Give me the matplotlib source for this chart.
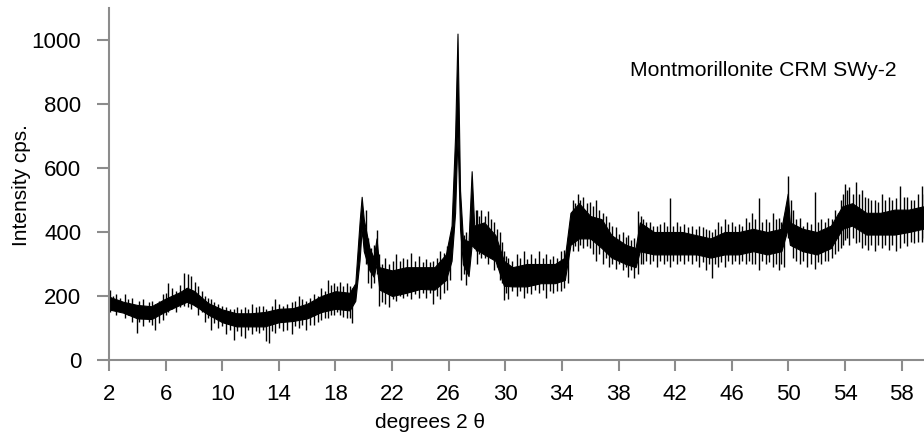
import matplotlib
matplotlib.use("Agg")
import matplotlib.pyplot as plt

plt.rcParams["font.family"] = ["Liberation Sans", "DejaVu Sans"]

# Dense part of the XRD trace: lower / upper edge of the noise band (cps)
two_theta = [2.0, 3.0, 4.0, 5.0, 6.0, 7.0, 7.5, 8.0, 9.0, 10.0, 11.0, 12.0,
             13.0, 14.0, 15.0, 16.0, 17.0, 18.0, 19.0, 19.4, 19.7, 19.85,
             20.0, 20.4, 20.7, 20.9, 21.1, 22.0, 23.0, 24.0, 25.0, 25.8,
             26.2, 26.45, 26.62, 26.8, 27.0, 27.4, 27.62, 27.8, 28.5, 29.3,
             29.9, 30.5, 31.5, 32.5, 33.5, 34.2, 34.6, 35.2, 36.0, 36.8,
             37.5, 38.5, 39.2, 39.5, 40.5, 41.5, 42.5, 43.5, 44.5, 45.5,
             46.5, 47.5, 48.5, 49.5, 49.95, 50.1, 51.0, 52.0, 53.0, 53.8,
             54.5, 55.5, 56.5, 57.5, 58.5, 59.5, 60.0]
band_lo = [158, 148, 130, 128, 152, 172, 182, 172, 142, 118, 105, 105,
           105, 118, 122, 130, 150, 160, 155, 185, 310, 410,
           340, 280, 260, 300, 220, 200, 210, 222, 220, 250,
           310, 460, 700, 410, 300, 262, 360, 350, 330, 310,
           232, 230, 230, 240, 240, 250, 360, 380, 380, 350,
           320, 300, 290, 340, 330, 330, 330, 330, 320, 330,
           330, 340, 330, 340, 410, 360, 340, 330, 350, 410,
           420, 392, 392, 392, 400, 410, 410]
band_hi = [198, 182, 172, 168, 192, 212, 226, 216, 178, 158, 146, 146,
           150, 160, 162, 176, 200, 215, 210, 240, 430, 510,
           440, 350, 320, 380, 290, 280, 290, 290, 290, 330,
           420, 700, 1020, 530, 380, 370, 590, 420, 430, 390,
           310, 290, 300, 300, 300, 320, 460, 490, 450, 440,
           390, 360, 350, 430, 400, 400, 400, 390, 380, 400,
           400, 410, 400, 410, 520, 430, 410, 400, 420, 480,
           490, 460, 460, 470, 470, 480, 480]

# Individual noise excursions outside the dense band
spike_theta = [2.1, 2.3, 2.5, 2.8, 3.1, 3.35, 3.6, 3.95, 4.15, 4.4, 4.8, 5.05,
               5.25, 5.5, 5.8, 6.0, 6.2, 6.45, 6.7, 7.0, 7.3, 7.55, 7.8, 8.05,
               8.3, 8.55, 8.8, 9.0, 9.2, 9.45, 9.7, 10.0, 10.3, 10.55, 10.8,
               11.05, 11.3, 11.6, 11.85, 12.1, 12.35, 12.6, 12.85, 13.1, 13.3,
               13.5, 13.7, 14.0, 14.3, 14.6, 14.9, 15.15, 15.4, 15.65, 15.9,
               16.2, 16.5, 16.75, 17.0, 17.25, 17.5, 17.7, 17.9, 18.1, 18.3,
               18.55, 18.8, 19.0, 19.2, 20.15, 20.3, 20.5, 20.7, 20.9, 21.1,
               21.3, 21.5, 21.8, 22.05, 22.3, 22.55, 22.8, 23.05, 23.3, 23.6,
               23.9, 24.15, 24.4, 24.65, 24.9, 25.15, 25.4, 25.65, 25.9, 26.1,
               26.9, 27.05, 27.2, 27.95, 28.0, 28.15, 28.3, 28.55, 28.8, 29.0,
               29.2, 29.4, 29.6, 29.75, 29.9, 30.05, 30.2, 30.5, 30.8, 31.05,
               31.3, 31.55, 31.8, 32.1, 32.4, 32.65, 32.9, 33.15, 33.4, 33.65,
               33.9, 34.15, 34.4, 34.8, 34.95, 35.1, 35.3, 35.5, 35.75, 36.0,
               36.2, 36.4, 36.65, 36.9, 37.1, 37.3, 37.55, 37.8, 38.05, 38.3,
               38.5, 38.7, 38.9, 39.1, 39.4, 39.55, 39.7, 39.95, 40.2, 40.45,
               40.7, 40.95, 41.2, 41.4, 41.6, 41.85, 42.1, 42.35, 42.6, 42.9,
               43.2, 43.45, 43.7, 43.95, 44.2, 44.4, 44.6, 44.8, 45.0, 45.25,
               45.5, 45.75, 46.0, 46.25, 46.5, 46.75, 47.0, 47.2, 47.4, 47.65,
               47.9, 48.15, 48.4, 48.65, 48.9, 49.1, 49.3, 49.5, 49.7, 50.0,
               50.15, 50.3, 50.55, 50.8, 51.05, 51.3, 51.6, 51.9, 52.1, 52.3,
               52.55, 52.8, 53.05, 53.3, 53.5, 53.7, 53.85, 54.0, 54.15, 54.3,
               54.55, 54.8, 55.0, 55.2, 55.4, 55.6, 55.85, 56.1, 56.35, 56.6,
               56.85, 57.1, 57.35, 57.6, 57.9, 58.15, 58.4, 58.65, 58.9, 59.15,
               59.4, 59.6, 59.8]
spike_lo = [150, 160, 140, 150, 130, 140, 120, 85, 120, 105, 120, 110,
            95, 115, 125, 140, 150, 160, 150, 165, 170, 165, 160, 170,
            140, 150, 120, 130, 95, 115, 100, 105, 80, 95, 62,
            90, 75, 70, 95, 80, 90, 85, 95, 58, 52,
            90, 85, 100, 90, 95, 80, 105, 100, 110, 95,
            110, 110, 120, 125, 130, 130, 140, 140, 150, 140,
            135, 130, 130, 115, 300, 240, 225, 240, 270, 170,
            180, 175, 165, 190, 185, 200, 195, 200, 190, 205,
            195, 210, 195, 210, 175, 200, 190, 210, 220, 250,
            250, 270, 235, 340, 300, 330, 320, 320, 300, 320,
            280, 290, 250, 240, 187, 210, 190, 215, 200, 215,
            195, 210, 205, 220, 210, 220, 195, 215, 210, 215,
            215, 225, 240, 340, 355, 340, 360, 350, 355, 350,
            330, 310, 330, 300, 320, 290, 300, 285, 300, 280,
            290, 260, 280, 255, 270, 300, 300, 310, 300, 310,
            290, 310, 300, 310, 290, 310, 300, 310, 300, 310,
            300, 310, 290, 305, 280, 300, 255, 300, 290, 305,
            290, 310, 300, 310, 300, 310, 300, 310, 300, 300,
            280, 310, 300, 305, 290, 300, 280, 300, 290, 380,
            360, 320, 310, 300, 310, 290, 300, 285, 305, 300,
            310, 310, 320, 330, 340, 350, 360, 375, 380, 360,
            380, 365, 370, 350, 360, 345, 360, 340, 360, 350,
            360, 345, 360, 340, 350, 365, 355, 370, 365, 370,
            370, 380, 380]
spike_hi = [218, 200, 205, 195, 205, 190, 195, 170, 185, 190, 180, 185,
            175, 185, 205, 210, 240, 225, 215, 235, 272, 270, 262, 245,
            230, 215, 200, 195, 190, 180, 175, 170, 165, 160, 160,
            165, 160, 165, 160, 175, 165, 170, 168, 160, 150,
            170, 190, 175, 170, 175, 180, 185, 200, 190, 185,
            195, 205, 200, 225, 215, 250, 235, 240, 230, 245,
            232, 240, 230, 225, 470, 380, 350, 360, 405, 330,
            300, 320, 300, 310, 330, 310, 320, 315, 335, 310,
            325, 305, 315, 305, 310, 320, 340, 335, 355, 380,
            410, 390, 400, 470, 470, 450, 470, 450, 465, 440,
            430, 410, 400, 370, 340, 325, 320, 310, 330, 320,
            340, 315, 330, 320, 340, 320, 330, 315, 325, 320,
            340, 345, 380, 500, 490, 520, 500, 510, 490, 495,
            480, 500, 470, 460, 450, 430, 420, 415, 395, 400,
            385, 390, 375, 380, 465, 450, 440, 430, 430, 420,
            420, 425, 430, 420, 505, 420, 430, 420, 425, 415,
            420, 410, 420, 415, 410, 405, 400, 410, 430, 420,
            440, 425, 430, 420, 425, 420, 445, 430, 460, 440,
            505, 430, 440, 430, 460, 440, 445, 430, 450, 576,
            500, 470, 440, 445, 420, 430, 425, 525, 430, 440,
            430, 445, 440, 470, 460, 500, 520, 550, 530, 540,
            520, 555, 520, 530, 510, 505, 500, 500, 495, 520,
            500, 510, 500, 505, 545, 510, 510, 500, 500, 520,
            545, 520, 540]

x_ticks = [2, 6, 10, 14, 18, 22, 26, 30, 34, 38, 42, 46, 50, 54, 58]
y_ticks = [0, 200, 400, 600, 800, 1000]

axis_grey = "#8c8c8c"

fig = plt.figure(figsize=(9.24, 4.43), dpi=100)
ax = fig.add_axes([109 / 924, 83 / 443, 821 / 924, 352 / 443])

ax.fill_between(two_theta, band_lo, band_hi, color="black", lw=0.8)
ax.vlines(spike_theta, spike_lo, spike_hi, color="black", lw=1.0)

ax.set_xlim(2, 60)
ax.set_ylim(0, 1100)
ax.set_xticks(x_ticks)
ax.set_yticks(y_ticks)

for side in ("top", "right"):
    ax.spines[side].set_visible(False)
for side in ("left", "bottom"):
    ax.spines[side].set_color(axis_grey)
    ax.spines[side].set_linewidth(1.5)

ax.tick_params(axis="x", direction="out", length=8, width=1.5,
               color=axis_grey, labelsize=16, pad=9)
ax.tick_params(axis="y", direction="out", length=9, width=1.5,
               color=axis_grey, labelsize=16, pad=11)

fig.text(430 / 924, 1 - 423 / 443, "degrees 2 θ", ha="center", va="center",
         fontsize=15)
fig.text(22 / 924, 1 - 185 / 443, "Intensity cps.", ha="center",
         va="center", rotation=90, fontsize=15)
fig.text(763 / 924, 1 - 71 / 443, "Montmorillonite CRM SWy-2",
         ha="center", va="center", fontsize=15.2)

fig.savefig("out.png", dpi=100)
